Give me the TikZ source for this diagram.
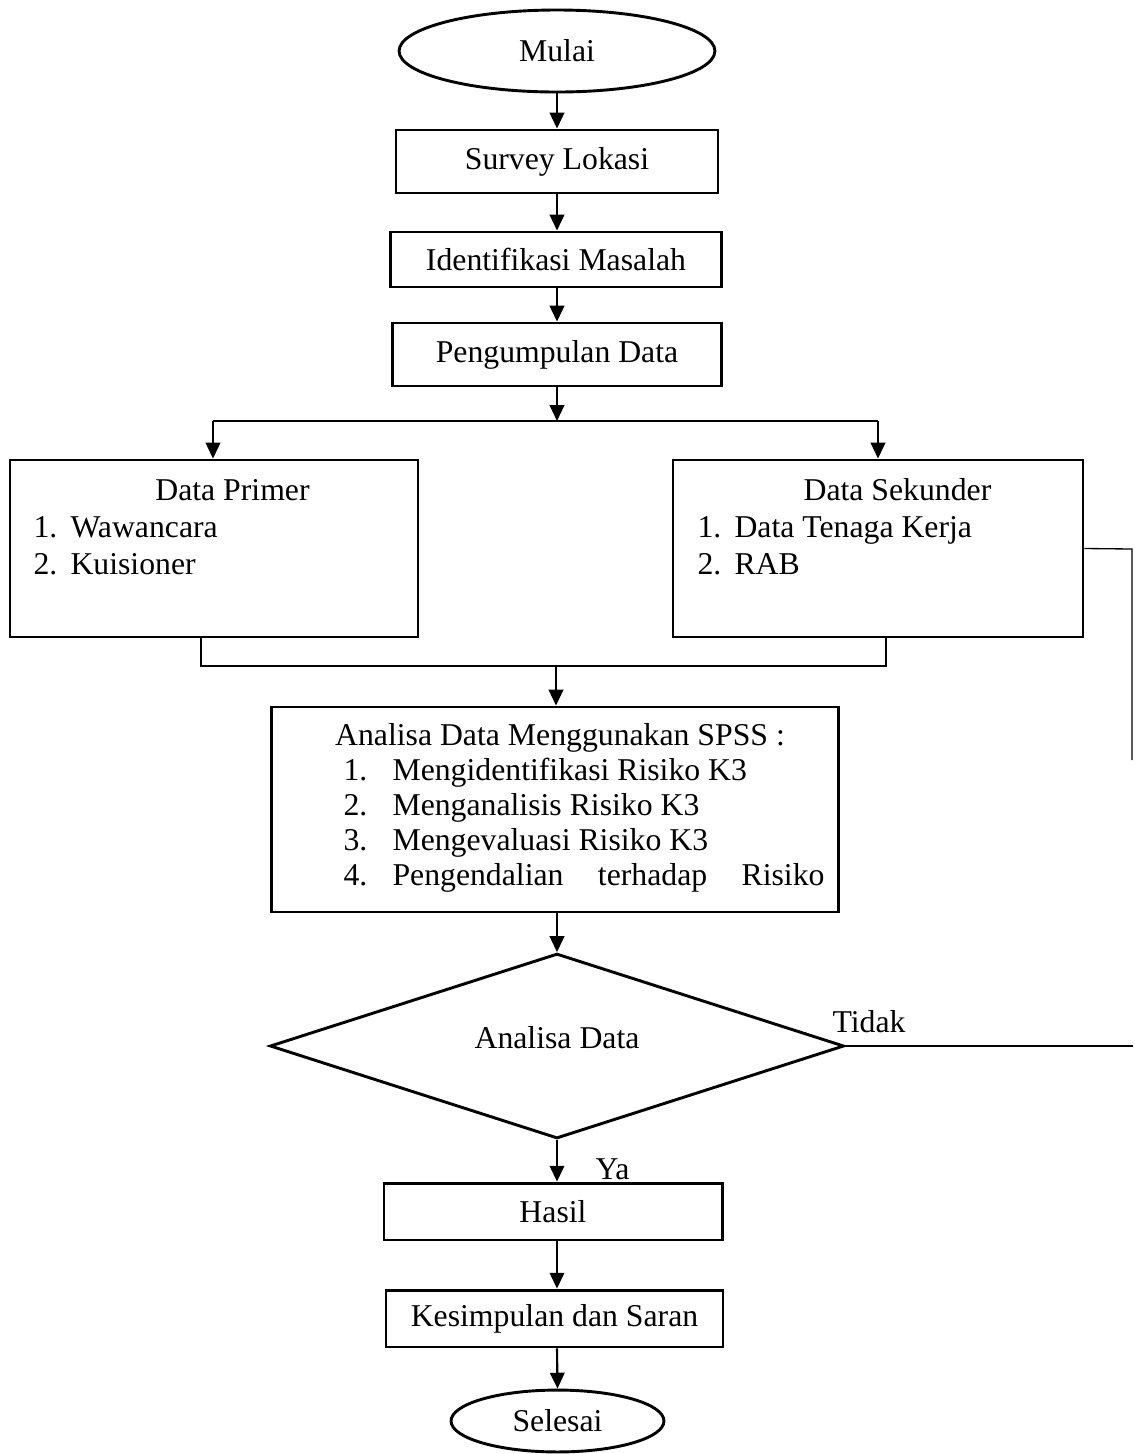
\documentclass[tikz,border=0pt]{standalone}
\usepackage{fontspec}
\setmainfont{Liberation Serif}
\usetikzlibrary{arrows.meta,shapes.geometric}
\begin{document}
\begin{tikzpicture}[x=0.378pt,y=-0.378pt,
  every node/.style={font=\fontsize{12}{14}\selectfont},
  box/.style={draw,line width=1.1pt,rectangle,inner sep=0pt},
  oval/.style={draw,line width=1.1pt,ellipse,inner sep=0pt},
  dia/.style={draw,line width=1.1pt,diamond,inner sep=0pt},
  conn/.style={line width=0.8pt,-{Triangle[length=6pt,width=5.5pt]}},
  thinline/.style={line width=0.5pt},
  txt/.style={inner sep=0pt}]
\useasboundingbox (0,0) rectangle (1134,1454);

% main column
\node[oval,minimum width=119.4pt,minimum height=31pt] (mulai) at (557,51) {Mulai};
\node[box,minimum width=121.7pt,minimum height=23.8pt] (survey) at (557,161.5) {Survey Lokasi};
\node[box,minimum width=125.1pt,minimum height=20.8pt] (ident) at (556,259.5) {Identifikasi Masalah};
\node[box,minimum width=124.7pt,minimum height=23.8pt] (kumpul) at (557,354.5) {Pengumpulan Data};

% data boxes
\node[box,minimum width=154.2pt,minimum height=66.9pt] (primer) at (214,548.5) {};
\node[txt,anchor=base] (primerT) at (232.5,500) {Data Primer};
\node[txt,anchor=base west] (p1n) at (33,537) {1.};
\node[txt,anchor=base west] (p1) at (70,537) {Wawancara};
\node[txt,anchor=base west] (p2n) at (33,574) {2.};
\node[txt,anchor=base west] (p2) at (70,574) {Kuisioner};

\node[box,minimum width=155pt,minimum height=66.9pt] (sekunder) at (878,548.5) {};
\node[txt,anchor=base] (sekT) at (897.5,500) {Data Sekunder};
\node[txt,anchor=base west] (s1n) at (697,537) {1.};
\node[txt,anchor=base west] (s1) at (734,537) {Data Tenaga Kerja};
\node[txt,anchor=base west] (s2n) at (697,574) {2.};
\node[txt,anchor=base west] (s2) at (734,574) {RAB};

% analysis box
\node[box,minimum width=214pt,minimum height=77.5pt] (analisa) at (555,809.5) {};
\node[txt,anchor=base] (anT) at (560,745) {Analisa Data Menggunakan SPSS :};
\node[txt,anchor=base west] (a1n) at (343,780) {1.};
\node[txt,anchor=base west] (a1) at (392,780) {Mengidentifikasi Risiko K3};
\node[txt,anchor=base west] (a2n) at (343,815) {2.};
\node[txt,anchor=base west] (a2) at (392,815) {Menganalisis Risiko K3};
\node[txt,anchor=base west] (a3n) at (343,850) {3.};
\node[txt,anchor=base west] (a3) at (392,850) {Mengevaluasi Risiko K3};
\node[txt,anchor=base west] (a4n) at (343,885) {4.};
\node[txt,anchor=base west] (a4) at (392,885) {\makebox[163.3pt][s]{Pengendalian terhadap Risiko}};

% decision
\node[dia,minimum width=217pt,minimum height=69.9pt] (keputusan) at (557,1046) {};
\node[txt,anchor=base] (kepT) at (557,1048) {Analisa Data};

\node[box,minimum width=127.8pt,minimum height=21.5pt] (hasil) at (553,1211.5) {Hasil};
\node[box,minimum width=127.4pt,minimum height=21.5pt] (simpul) at (554.5,1318.5) {Kesimpulan dan Saran};
\node[oval,minimum width=80.5pt,minimum height=23.4pt] (selesai) at (557.5,1421) {Selesai};

% labels
\node[txt,anchor=base west] (ya) at (595,1179) {Ya};
\node[txt,anchor=base west] (tidak) at (832,1032) {Tidak};

% coordinates
\coordinate (split) at (557,421);
\coordinate (splitL) at (213,421);
\coordinate (splitR) at (878,421);
\coordinate (mergeL) at (201,666);
\coordinate (mergeR) at (886,666);
\coordinate (merge) at (556,666);
\coordinate (loopTop) at (1132,549);
\coordinate (loopEnd) at (1132,760);
\coordinate (tidakEnd) at (1133,1046);

% connectors
\draw[conn] (mulai.south -| 557,0) -- (survey.north -| 557,0);
\draw[conn] (survey.south -| 557,0) -- (ident.north -| 557,0);
\draw[conn] (ident.south -| 557,0) -- (kumpul.north -| 557,0);
\draw[conn] (kumpul.south -| 557,0) -- (split);
\draw[thinline] (splitL) -- (splitR);
\draw[conn] (splitL) -- (primer.north -| splitL);
\draw[conn] (splitR) -- (sekunder.north -| splitR);
\draw[thinline] (primer.south -| mergeL) -- (mergeL) -- (mergeR) -- (sekunder.south -| mergeR);
\draw[conn] (merge) -- (analisa.north -| merge);
\draw[conn] (analisa.south -| 557,0) -- (keputusan.north);
\draw[conn] (keputusan.south) -- (hasil.north -| keputusan.south);
\draw[conn] (hasil.south -| 557,0) -- (simpul.north -| 557,0);
\draw[conn] (simpul.south -| 557,0) -- (selesai.north);
\draw[thinline] (sekunder.east) -- (loopTop) -- (loopEnd);
\draw[line width=0.6pt] (keputusan.east) -- (tidakEnd);
\end{tikzpicture}
\end{document}
